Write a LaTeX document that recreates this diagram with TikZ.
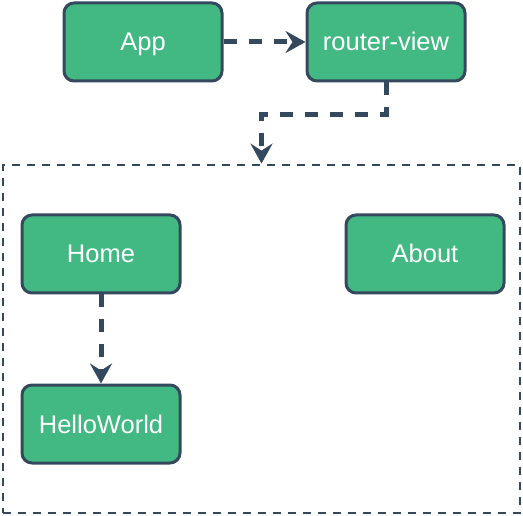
\documentclass[tikz,border=0pt]{standalone}
\usepackage{fontspec}
\setmainfont{Liberation Sans}
\usepackage{xcolor}
\usetikzlibrary{arrows.meta, positioning}

\definecolor{vuegreen}{HTML}{42B983}
\definecolor{vuedark}{HTML}{35495E}

\tikzset{
  comp/.style={draw=vuedark, line width=3pt, fill=vuegreen, rounded corners=10pt,
    minimum width=158pt, minimum height=78pt, text=white, inner sep=0pt,
    text height=18pt, text depth=0pt, font=\fontsize{25.5}{28}\selectfont},
  views/.style={draw=vuedark, line width=2.8pt, dash pattern=on 8pt off 7pt,
    minimum width=517pt, minimum height=348pt, inner sep=0pt},
  link/.style={draw=vuedark, line width=5pt, dash pattern=on 13pt off 12pt,
    -{Stealth[length=20pt, width=22pt, inset=7pt]}}
}

\begin{document}
\begin{tikzpicture}[x=1pt, y=-1pt]
    \useasboundingbox (0,0) rectangle (523,516);
    % container for the routed pages
    \node[views] (pages) at (261.5,339) {};
    \node[comp] (app) at (143,42) {App};
    \node[comp] (rv) at (386,42) {router-view};
    \node[comp] (home) at (101,254) {Home};
    \node[comp] (about) at (425,254) {About};
    \node[comp] (hello) at (101,424) {HelloWorld};
    % connectors
    \draw[link] (app) -- (rv);
    \draw[link] (rv.south) -- ++(0,32) -| (pages.north);
    \draw[link] (home) -- (hello);
\end{tikzpicture}
\end{document}
